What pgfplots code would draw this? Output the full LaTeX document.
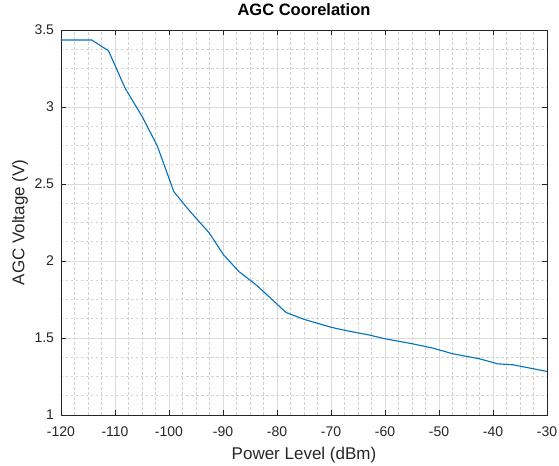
\documentclass[border=0pt]{standalone}
\usepackage{fontspec}
\setmainfont{Liberation Sans}
\usepackage{pgfplots}
\pgfplotsset{compat=1.18}
\definecolor{mblue}{RGB}{0,114,189}
\definecolor{maxis}{RGB}{38,38,38}

\begin{document}
\begin{tikzpicture}
\begin{axis}[
    scale only axis,
    width=486bp,
    height=385bp,
    xmin=-120, xmax=-30,
    ymin=1, ymax=3.5,
    xtick={-120,-110,...,-30},
    ytick={1,1.5,2,2.5,3,3.5},
    minor x tick num=3,
    minor y tick num=3,
    grid=both,
    major grid style={draw=black!14, line width=0.5bp},
    minor grid style={draw=black!18, dash pattern=on 2.5bp off 2.5bp, line width=0.5bp},
    tick align=inside,
    major tick length=5bp,
    minor tick length=0pt,
    axis line style={draw=maxis, line width=0.7bp},
    tick style={draw=maxis, line width=0.7bp},
    /pgf/number format/assume math mode=true,
    tick label style={font=\fontsize{14bp}{16bp}\selectfont, text=maxis},
    xticklabel style={yshift=-8bp},
    yticklabel style={xshift=-3.5bp},
    title={AGC Coorelation},
    title style={font=\fontsize{16.5bp}{19bp}\selectfont\bfseries, text=black,
        at={(axis description cs:0.5,1)}, anchor=base, yshift=9bp},
    xlabel={Power Level (dBm)},
    ylabel={AGC Voltage (V)},
    label style={font=\fontsize{17bp}{20bp}\selectfont, text=maxis},
    xlabel style={at={(axis description cs:0.5,-0.1039)}, anchor=center},
    ylabel style={at={(axis description cs:-0.0844,0.5)}, anchor=center},
]
\addplot[color=mblue, line width=1.1bp] coordinates {
    (-120,3.435)
    (-114.3,3.435)
    (-111.2,3.365)
    (-108.1,3.12)
    (-105,2.94)
    (-102.2,2.75)
    (-99.1,2.45)
    (-96.3,2.33)
    (-92.5,2.18)
    (-89.9,2.04)
    (-87,1.93)
    (-83.7,1.84)
    (-80,1.72)
    (-78.3,1.665)
    (-74.9,1.62)
    (-70,1.57)
    (-67.5,1.55)
    (-63,1.52)
    (-60,1.495)
    (-55,1.463)
    (-51.2,1.435)
    (-47.5,1.398)
    (-42.5,1.365)
    (-39.1,1.332)
    (-36.3,1.326)
    (-30,1.283)
};
\end{axis}
\pgfresetboundingbox
\path (current axis.south west) ++(-61bp,-51bp) rectangle (current axis.north east) ++(12bp,30bp);
\end{tikzpicture}
\end{document}
